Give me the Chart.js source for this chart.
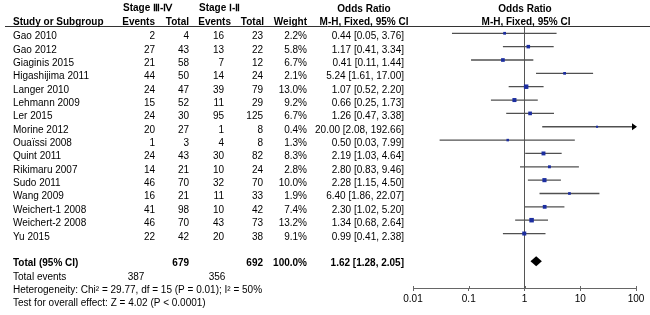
<!DOCTYPE html>
<html><head><meta charset="utf-8">
<script src="https://cdn.jsdelivr.net/npm/chart.js@4/dist/chart.umd.min.js"></script>
<style>html,body{margin:0;padding:0;background:#fff}canvas{display:block}</style>
</head><body>
<canvas id="c" width="650" height="315"></canvas>
<script>
const studies = ["Gao 2010","Gao 2012","Giaginis 2015","Higashijima 2011","Langer 2010","Lehmann 2009","Ler 2015","Morine 2012","Ouaïssi 2008","Quint 2011","Rikimaru 2007","Sudo 2011","Wang 2009","Weichert-1 2008","Weichert-2 2008","Yu 2015"];
const eventsHigh = [2,27,21,44,24,15,24,20,1,24,14,46,16,41,46,22];
const totalHigh  = [4,43,58,50,47,52,30,27,3,43,21,70,21,98,70,42];
const eventsLow  = [16,13,7,14,39,11,95,1,4,30,10,32,11,10,43,20];
const totalLow   = [23,22,12,24,79,29,125,8,8,82,24,70,33,42,73,38];
const weights    = [2.2,5.8,6.7,2.1,13.0,9.2,6.7,0.4,1.3,8.3,2.8,10.0,1.9,7.4,13.2,9.1];
const oddsRatio  = [0.44,1.17,0.41,5.24,1.07,0.66,1.26,20.00,0.50,2.19,2.80,2.28,6.40,2.30,1.34,0.99];
const ciLow      = [0.05,0.41,0.11,1.61,0.52,0.25,0.47,2.08,0.03,1.03,0.83,1.15,1.86,1.02,0.68,0.41];
const ciHigh     = [3.76,3.34,1.44,17.00,2.20,1.73,3.38,192.66,7.99,4.64,9.46,4.50,22.07,5.20,2.64,2.38];
const axisTicks  = [0.01,0.1,1,10,100];
const totalN     = [679,692];
const totalEvents = [387,356];
const pooledOR   = [1.62,1.28,2.05];
const totalWeight = 100.0;
const heterogeneityText = "Heterogeneity: Chi\u00b2 = 29.77, df = 15 (P = 0.01); I\u00b2 = 50%";
const overallText = "Test for overall effect: Z = 4.02 (P < 0.0001)";

const X_MIN = 0.01, X_MAX = 100;
const Y_MIN = -0.547, Y_MAX = 19.08;
const ROW_TOTAL = 17, ROW_EVENTS = 18, ROW_HET = 19, ROW_TEST = 20;
const FONT = '"Liberation Sans", Arial, sans-serif';

const ciDatasets = studies.map((s, i) => ({
  label: s,
  data: [{x: Math.max(ciLow[i], X_MIN), y: i}, {x: Math.min(ciHigh[i], X_MAX), y: i}],
  showLine: true, borderColor: '#505050', borderWidth: 1.3, pointRadius: 0, order: 2
}));

const refLine = {
  label: 'ref', data: [{x: 1, y: Y_MIN}, {x: 1, y: Y_MAX}],
  showLine: true, borderColor: '#555', borderWidth: 1, pointRadius: 0, order: 3
};

const pointsDs = {
  label: 'OR', data: studies.map((s, i) => ({x: oddsRatio[i], y: i})),
  pointStyle: 'rect',
  pointRadius: ctx => (1.6 + Math.sqrt(weights[ctx.dataIndex]) * 0.8) / 1.414,
  backgroundColor: '#1c2ea0', borderColor: '#1c2ea0', borderWidth: 0, order: 1
};

function t(ctx, s, x, y, align, bold) {
  ctx.font = (bold ? 'bold ' : '') + '10px ' + FONT;
  ctx.textAlign = align;
  ctx.textBaseline = 'alphabetic';
  ctx.fillStyle = '#000';
  ctx.fillText(s, x, y);
}
const fmtOR = (o, l, h) => o.toFixed(2) + ' [' + l.toFixed(2) + ', ' + h.toFixed(2) + ']';

const tablePlugin = {
  id: 'table',
  afterDatasetsDraw(chart) {
    const ctx = chart.ctx, xs = chart.scales.x, ys = chart.scales.y;
    ctx.save();
    const cy = ys.getPixelForValue(ROW_TOTAL) + 1;
    ctx.beginPath();
    ctx.moveTo(xs.getPixelForValue(pooledOR[1]), cy);
    ctx.lineTo(xs.getPixelForValue(pooledOR[0]), cy - 5);
    ctx.lineTo(xs.getPixelForValue(pooledOR[2]), cy);
    ctx.lineTo(xs.getPixelForValue(pooledOR[0]), cy + 5);
    ctx.closePath();
    ctx.fillStyle = '#000';
    ctx.fill();
    studies.forEach((s, i) => {
      if (ciHigh[i] > X_MAX) {
        const ax = xs.getPixelForValue(X_MAX) + 1, ay = ys.getPixelForValue(i);
        ctx.beginPath();
        ctx.moveTo(ax, ay); ctx.lineTo(ax - 5, ay - 3.5); ctx.lineTo(ax - 5, ay + 3.5);
        ctx.closePath(); ctx.fill();
      }
    });
    // upper part of axis tick marks
    ctx.strokeStyle = '#666'; ctx.lineWidth = 1;
    const by = chart.chartArea.bottom;
    axisTicks.forEach(v => {
      const px = Math.round(xs.getPixelForValue(v)) + 0.5;
      ctx.beginPath(); ctx.moveTo(px, by - 2); ctx.lineTo(px, by); ctx.stroke();
    });
    ctx.restore();
  },
  afterDraw(chart) {
    const ctx = chart.ctx, ys = chart.scales.y;
    ctx.save();
    ctx.strokeStyle = '#333'; ctx.lineWidth = 1;
    ctx.beginPath(); ctx.moveTo(5, 26.5); ctx.lineTo(650, 26.5); ctx.stroke();
    t(ctx, 'Stage \u2162-\u2163', 123, 11, 'left', true);
    t(ctx, 'Stage \u2160-\u2161', 199, 11, 'left', true);
    t(ctx, 'Odds Ratio', 364, 12, 'center', true);
    t(ctx, 'Odds Ratio', 525, 12, 'center', true);
    t(ctx, 'Study or Subgroup', 13, 25, 'left', true);
    t(ctx, 'Events', 155, 25, 'right', true);
    t(ctx, 'Total', 189, 25, 'right', true);
    t(ctx, 'Events', 231, 25, 'right', true);
    t(ctx, 'Total', 264, 25, 'right', true);
    t(ctx, 'Weight', 307, 25, 'right', true);
    t(ctx, 'M-H, Fixed, 95% CI', 364, 25, 'center', true);
    t(ctx, 'M-H, Fixed, 95% CI', 526, 25, 'center', true);
    studies.forEach((s, i) => {
      const y = ys.getPixelForValue(i) + 6;
      t(ctx, s, 13, y, 'left');
      t(ctx, String(eventsHigh[i]), 155, y, 'right');
      t(ctx, String(totalHigh[i]), 189, y, 'right');
      t(ctx, String(eventsLow[i]), 224, y, 'right');
      t(ctx, String(totalLow[i]), 263, y, 'right');
      t(ctx, weights[i].toFixed(1) + '%', 307, y, 'right');
      t(ctx, fmtOR(oddsRatio[i], ciLow[i], ciHigh[i]), 404, y, 'right');
    });
    let y = ys.getPixelForValue(ROW_TOTAL) + 6;
    t(ctx, 'Total (95% CI)', 13, y, 'left', true);
    t(ctx, String(totalN[0]), 189, y, 'right', true);
    t(ctx, String(totalN[1]), 263, y, 'right', true);
    t(ctx, totalWeight.toFixed(1) + '%', 307, y, 'right', true);
    t(ctx, fmtOR(pooledOR[0], pooledOR[1], pooledOR[2]), 404, y, 'right', true);
    y = ys.getPixelForValue(ROW_EVENTS) + 6;
    t(ctx, 'Total events', 13, y, 'left');
    t(ctx, String(totalEvents[0]), 136, y, 'center');
    t(ctx, String(totalEvents[1]), 217, y, 'center');
    t(ctx, heterogeneityText, 13, ys.getPixelForValue(ROW_HET) + 6, 'left');
    t(ctx, overallText, 13, ys.getPixelForValue(ROW_TEST) + 6, 'left');
    ctx.restore();
  }
};

new Chart(document.getElementById('c'), {
  type: 'scatter',
  data: { datasets: [...ciDatasets, refLine, pointsDs] },
  options: {
    responsive: false, animation: false, devicePixelRatio: 1,
    layout: { padding: { left: 413, right: 14, top: 26, bottom: 0 } },
    plugins: { legend: { display: false }, tooltip: { enabled: false } },
    scales: {
      x: {
        type: 'logarithmic', min: X_MIN, max: X_MAX,
        afterBuildTicks: s => { s.ticks = axisTicks.map(v => ({ value: v })); },
        afterFit: s => { s.height = 27; },
        ticks: { autoSkip: false, maxRotation: 0, padding: 2, color: '#000',
                 font: { family: FONT, size: 10 }, callback: v => String(v) },
        grid: { drawOnChartArea: false, color: '#666', tickLength: 3 },
        border: { color: '#666', width: 1 }
      },
      y: { type: 'linear', reverse: true, min: Y_MIN, max: Y_MAX, display: false }
    }
  },
  plugins: [tablePlugin]
});
</script>
</body></html>
